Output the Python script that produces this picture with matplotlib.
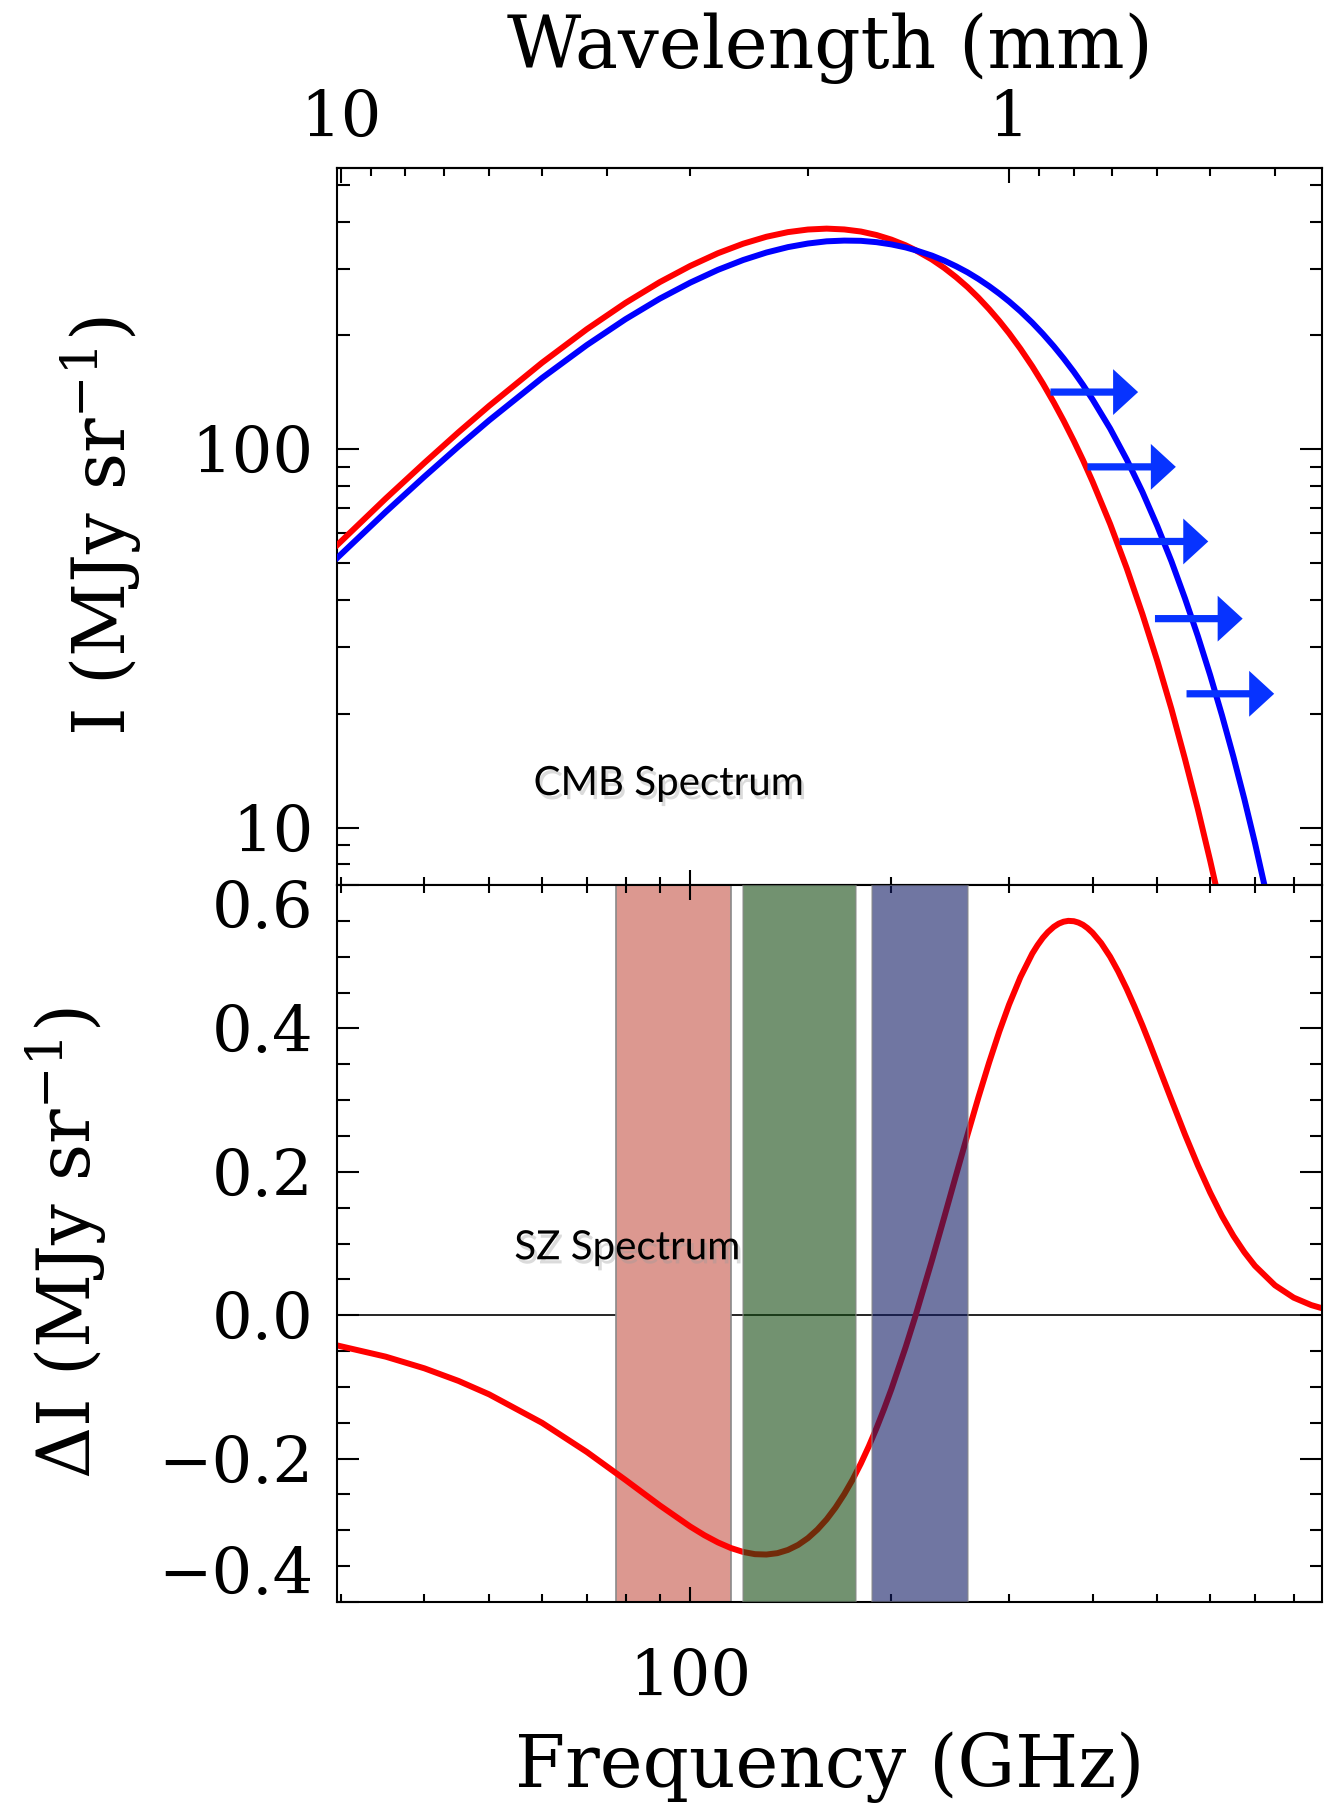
import numpy as np
import matplotlib
matplotlib.use("Agg")
import matplotlib.pyplot as plt
import matplotlib.patheffects as pe
from matplotlib.patches import FancyArrowPatch, ArrowStyle
from matplotlib.ticker import FixedLocator, FuncFormatter, NullFormatter, MultipleLocator
from matplotlib.transforms import blended_transform_factory

plt.rcParams['font.family'] = ['DejaVu Serif']
plt.rcParams['mathtext.fontset'] = 'dejavuserif'

# frequencias (GHz), painel de cima
freq_ghz = [29.6, 35, 40, 45, 50, 60, 70, 80, 90, 100, 110, 120, 130, 140, 150,
            160, 170, 180, 190, 200, 210, 217, 230, 240, 250, 260, 270, 280, 290, 300,
            312, 325, 337, 350, 362, 375, 387, 400, 425, 450, 475, 500, 525, 550, 575,
            600, 625, 650, 675, 700, 750, 800, 850, 880]

# espectro do CMB (vermelho) e espectro distorcido (azul), MJy/sr
cmb_red = [55.8, 74.1, 92.1, 111.0, 130.3, 169.4, 207.7, 243.8, 276.6, 305.3, 329.8,
           349.5, 364.6, 375.0, 381.0, 383.1, 381.2, 376.4, 368.5, 358.3, 346.2, 336.5,
           317.4, 301.5, 285.0, 268.4, 251.5, 234.8, 218.5, 202.7, 184.4, 165.7, 149.4,
           133.0, 119.1, 105.3, 93.7, 82.2, 63.5, 48.5, 36.7, 27.6, 20.6, 15.2, 11.2,
           8.18, 5.95, 4.31, 3.11, 2.23, 1.14, 0.572, 0.285, 0.186]
cmb_blue = [51.6, 68.3, 84.7, 101.8, 119.3, 154.4, 188.6, 220.8, 250.1, 275.8, 298.1,
            316.5, 331.2, 342.3, 349.9, 354.6, 356.2, 355.7, 352.8, 348.0, 341.7, 336.2,
            325.1, 315.2, 304.6, 293.6, 281.9, 270.0, 258.0, 246.0, 231.6, 216.1, 202.0,
            187.2, 174.0, 160.3, 148.1, 135.5, 113.5, 94.0, 77.2, 62.7, 50.6, 40.4, 32.1,
            25.3, 19.8, 15.4, 11.9, 9.12, 5.31, 3.02, 1.69, 1.18]

# painel de baixo: espectro SZ, MJy/sr
sz_freq_ghz = [29.6, 35, 40, 45, 50, 60, 70, 80, 90, 100, 105, 110, 115, 120, 125,
               130, 135, 140, 145, 150, 155, 160, 165, 170, 175, 180, 185, 190, 195,
               200, 210, 217, 230, 240, 250, 260, 270, 280, 290, 300, 312, 325, 331,
               337, 343, 350, 356, 362, 368, 375, 381, 387, 393, 400, 412, 425, 437,
               450, 462, 475, 487, 500, 512, 525, 550, 575, 600, 625, 650, 675, 700,
               750, 800, 850, 880]
sz_delta = [-0.0421, -0.0578, -0.0741, -0.0917, -0.1104, -0.1501, -0.1907, -0.2298,
            -0.2652, -0.2948, -0.3069, -0.3169, -0.3247, -0.3302, -0.3333, -0.3338,
            -0.3319, -0.3274, -0.3204, -0.3109, -0.2989, -0.2847, -0.2682, -0.2496,
            -0.2292, -0.2069, -0.1829, -0.1575, -0.1308, -0.1031, -0.0449, -0.0028,
            0.0765, 0.1370, 0.1958, 0.2518, 0.3042, 0.3521, 0.3953, 0.4332, 0.4715,
            0.5044, 0.5162, 0.5263, 0.5344, 0.5417, 0.5461, 0.5488, 0.5500, 0.5495,
            0.5476, 0.5445, 0.5400, 0.5334, 0.5191, 0.5000, 0.4794, 0.4550, 0.4310,
            0.4043, 0.3790, 0.3514, 0.3265, 0.3002, 0.2521, 0.2089, 0.1709, 0.1381,
            0.1106, 0.0878, 0.0689, 0.0417, 0.0245, 0.0141, 0.0100]

# setas (inicio, ponta, nivel)
arrow_tail_ghz = [346, 393, 439, 496, 553]
arrow_tip_ghz = [468, 533, 596, 671, 748]
arrow_level = [141.7, 89.9, 57.1, 35.7, 22.6]

# faixas de frequencia
band_lo = [77.3, 120.0, 186.8]
band_hi = [114.9, 176.9, 260.6]
band_colors = ['#dc9890', '#144911', '#111b64']
band_alpha = [1.0, 0.6, 0.6]

sz_yticks = [-0.4, -0.2, 0.0, 0.2, 0.4, 0.6]
sz_ylabels = ['', '\u22120.2', '0.0', '0.2', '0.4', '']


def ghz_to_mm(x):
    x = np.asarray(x, dtype=float)
    with np.errstate(divide='ignore', invalid='ignore'):
        return 299.792458 / x


plain = FuncFormatter(lambda v, p: f'{v:g}')
sombra = [pe.withSimplePatchShadow(offset=(2, -3), shadow_rgbFace='0.6', alpha=0.35)]

fig = plt.figure(figsize=(13.42, 18.05), dpi=100)
W, H = 1342, 1805
ax1 = fig.add_axes([337 / W, 1 - 885 / H, 985 / W, 717 / H])
ax2 = fig.add_axes([337 / W, 1 - 1602 / H, 985 / W, 717 / H])

for ax in (ax1, ax2):
    for s in ax.spines.values():
        s.set_linewidth(1.5)

# ---- painel de cima
ax1.set_xscale('log')
ax1.set_yscale('log')
ax1.plot(freq_ghz, cmb_red, color='#ff0000', lw=4.3, zorder=3)
ax1.plot(freq_ghz, cmb_blue, color='#0000ff', lw=4.3, zorder=3)
ax1.set_xlim(29.6, 882)
ax1.set_ylim(7.06, 554)

for t, h, y in zip(arrow_tail_ghz, arrow_tip_ghz, arrow_level):
    arr = FancyArrowPatch((t, y), (h, y),
                          arrowstyle=ArrowStyle.Simple(head_length=0.9, head_width=1.65,
                                                       tail_width=0.26),
                          mutation_scale=20, color='#0733ff', lw=0,
                          shrinkA=0, shrinkB=0, zorder=4)
    ax1.add_patch(arr)

ax1.tick_params(axis='x', which='both', direction='in', bottom=True, top=False,
                labelbottom=False, width=1.5)
ax1.tick_params(axis='x', which='major', length=11)
ax1.tick_params(axis='x', which='minor', length=6)
ax1.tick_params(axis='y', which='both', direction='in', left=True, right=True,
                width=1.5, labelsize=46, pad=17)
ax1.tick_params(axis='y', which='major', length=16)
ax1.tick_params(axis='y', which='minor', length=9)
ax1.yaxis.set_major_formatter(plain)
ax1.yaxis.set_minor_formatter(NullFormatter())
ax1.set_ylabel('I (MJy sr$^{-1}$)', fontsize=52, va='center')
ax1.yaxis.set_label_coords(-0.2396, 0.5)

sec = ax1.secondary_xaxis('top', functions=(ghz_to_mm, ghz_to_mm))
sec.xaxis.set_major_locator(FixedLocator([10, 1]))
sec.xaxis.set_minor_locator(FixedLocator([9, 8, 7, 6, 5, 4, 3, 2, 0.9, 0.8, 0.7, 0.6, 0.5, 0.4]))
sec.xaxis.set_major_formatter(plain)
sec.xaxis.set_minor_formatter(NullFormatter())
sec.tick_params(which='both', direction='in', width=1.5, labelsize=46, pad=13)
sec.tick_params(which='major', length=11)
sec.tick_params(which='minor', length=6)
sec.spines['top'].set_linewidth(1.5)
fig.text(829.5 / W, 1 - 48 / H, 'Wavelength (mm)', fontsize=52, ha='center', va='center')

ax1.text(0.1996, 0.1255, 'CMB Spectrum', transform=ax1.transAxes, fontsize=29,
         family='Lato', ha='left', va='baseline', path_effects=sombra)

# ---- painel de baixo
ax2.set_xscale('log')
ax2.axhline(0, color='black', lw=1.2, zorder=0.5)
for lo, hi, c, a in zip(band_lo, band_hi, band_colors, band_alpha):
    z = 1 if a == 1.0 else 3
    ax2.axvspan(lo, hi, facecolor=c, edgecolor='#8a8a8a', lw=1.2, alpha=a, zorder=z)
ax2.plot(sz_freq_ghz, sz_delta, color='#ff0000', lw=4.3, zorder=2)
ax2.set_xlim(29.6, 882)
ax2.set_ylim(-0.4, 0.6)

ax2.tick_params(axis='x', which='both', direction='in', bottom=True, top=True,
                width=1.5, labelsize=46, pad=33)
ax2.tick_params(axis='x', which='major', length=11)
ax2.tick_params(axis='x', which='minor', length=6)
ax2.xaxis.set_major_formatter(plain)
ax2.xaxis.set_minor_formatter(NullFormatter())
ax2.set_yticks(sz_yticks, sz_ylabels)
ax2.yaxis.set_minor_locator(MultipleLocator(0.05))
ax2.tick_params(axis='y', which='both', direction='in', left=True, right=True,
                width=1.5, labelsize=46, pad=17)
ax2.tick_params(axis='y', which='major', length=16)
ax2.tick_params(axis='y', which='minor', length=9)

# rotulos das pontas deslocados para dentro, como no original
tr = blended_transform_factory(ax2.transAxes, ax2.transData)
ax2.text(-24 / 985, 0.565, '0.6', transform=tr, ha='right', va='center', fontsize=46)
ax2.text(-24 / 985, -0.365, '\u22120.4', transform=tr, ha='right', va='center', fontsize=46)

ax2.set_ylabel('\u0394I (MJy sr$^{-1}$)', fontsize=52, va='center')
ax2.yaxis.set_label_coords(-0.2746, 0.5)
ax2.set_xlabel('Frequency (GHz)', fontsize=52, va='center')
ax2.xaxis.set_label_coords(0.5, -(1767 - 1602) / 717)

ax2.text(0.180, 0.478, 'SZ Spectrum', transform=ax2.transAxes, fontsize=29,
         family='Lato', ha='left', va='baseline', zorder=5, path_effects=sombra)

fig.savefig('out.png', dpi=100, facecolor='white')
